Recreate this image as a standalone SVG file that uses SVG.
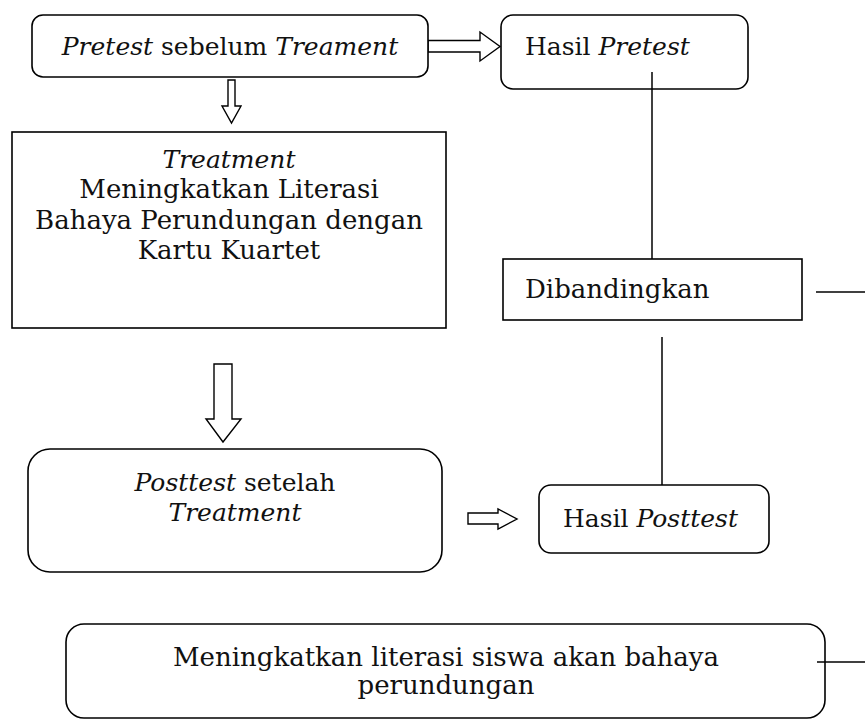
<svg xmlns="http://www.w3.org/2000/svg" width="865" height="720" viewBox="0 0 865 720">
<style>
.box{fill:#fff;stroke:#000;stroke-width:1.6}
.ln{fill:none;stroke:#000;stroke-width:1.5}
.arr{fill:#fff;stroke:#000;stroke-width:1.4;stroke-linejoin:miter}
text{font-family:"DejaVu Serif","Liberation Serif",serif;font-size:26px;fill:#111}
.s{font-size:25px}
.i{font-style:italic}
</style>
<rect width="865" height="720" fill="#fff"/>
<g id="connectors">
<polygon class="arr" points="428,40.5 480,40.5 480,32 500,46.5 480,61 480,52 428,52"/>
<polygon class="arr" points="228,80 235,80 235,106 241,106 231.5,123 222,106 228,106"/>
<polygon class="arr" points="214,364 232,364 232,419 241,419 223,442 206,419 214,419"/>
<polygon class="arr" points="468,513 498,513 498,509 517,519 498,529 498,524 468,524"/>
<line class="ln" x1="652" y1="72" x2="652" y2="259"/>
<line class="ln" x1="816" y1="292" x2="865" y2="292"/>
<line class="ln" x1="662" y1="337" x2="662" y2="485"/>
<line class="ln" x1="817" y1="662" x2="865" y2="662"/>
</g>
<g id="pretest">
<rect class="box" x="32" y="15" width="396" height="62" rx="11"/>
<text class="s" x="230" y="55" text-anchor="middle"><tspan class="i">Pretest</tspan> sebelum <tspan class="i">Treament</tspan></text>
</g>
<g id="hasil-pretest">
<rect class="box" x="501" y="15" width="247" height="74" rx="12"/>
<line class="ln" x1="652" y1="72" x2="652" y2="89"/>
<text class="s" x="525" y="55">Hasil <tspan class="i">Pretest</tspan></text>
</g>
<g id="treatment">
<rect class="box" x="12" y="132" width="434" height="196"/>
<text x="229" y="168" text-anchor="middle" class="i s">Treatment</text>
<text x="229" y="198" text-anchor="middle">Meningkatkan Literasi</text>
<text x="229" y="229" text-anchor="middle">Bahaya Perundungan dengan</text>
<text x="229" y="259" text-anchor="middle">Kartu Kuartet</text>
</g>
<g id="dibandingkan">
<rect class="box" x="503" y="259" width="299" height="61"/>
<text x="525" y="298">Dibandingkan</text>
</g>
<g id="posttest">
<rect class="box" x="28" y="449" width="414" height="123" rx="22"/>
<text class="s" x="235" y="491" text-anchor="middle"><tspan class="i">Posttest</tspan> setelah</text>
<text x="235" y="521" text-anchor="middle" class="i s">Treatment</text>
</g>
<g id="hasil-posttest">
<rect class="box" x="539" y="485" width="230" height="68" rx="12"/>
<text class="s" x="563" y="527">Hasil <tspan class="i">Posttest</tspan></text>
</g>
<g id="kesimpulan">
<rect class="box" x="66" y="624" width="759" height="94" rx="18"/>
<line class="ln" x1="817" y1="662" x2="825" y2="662"/>
<text x="446" y="666" text-anchor="middle">Meningkatkan literasi siswa akan bahaya</text>
<text x="446" y="694" text-anchor="middle">perundungan</text>
</g>
</svg>
